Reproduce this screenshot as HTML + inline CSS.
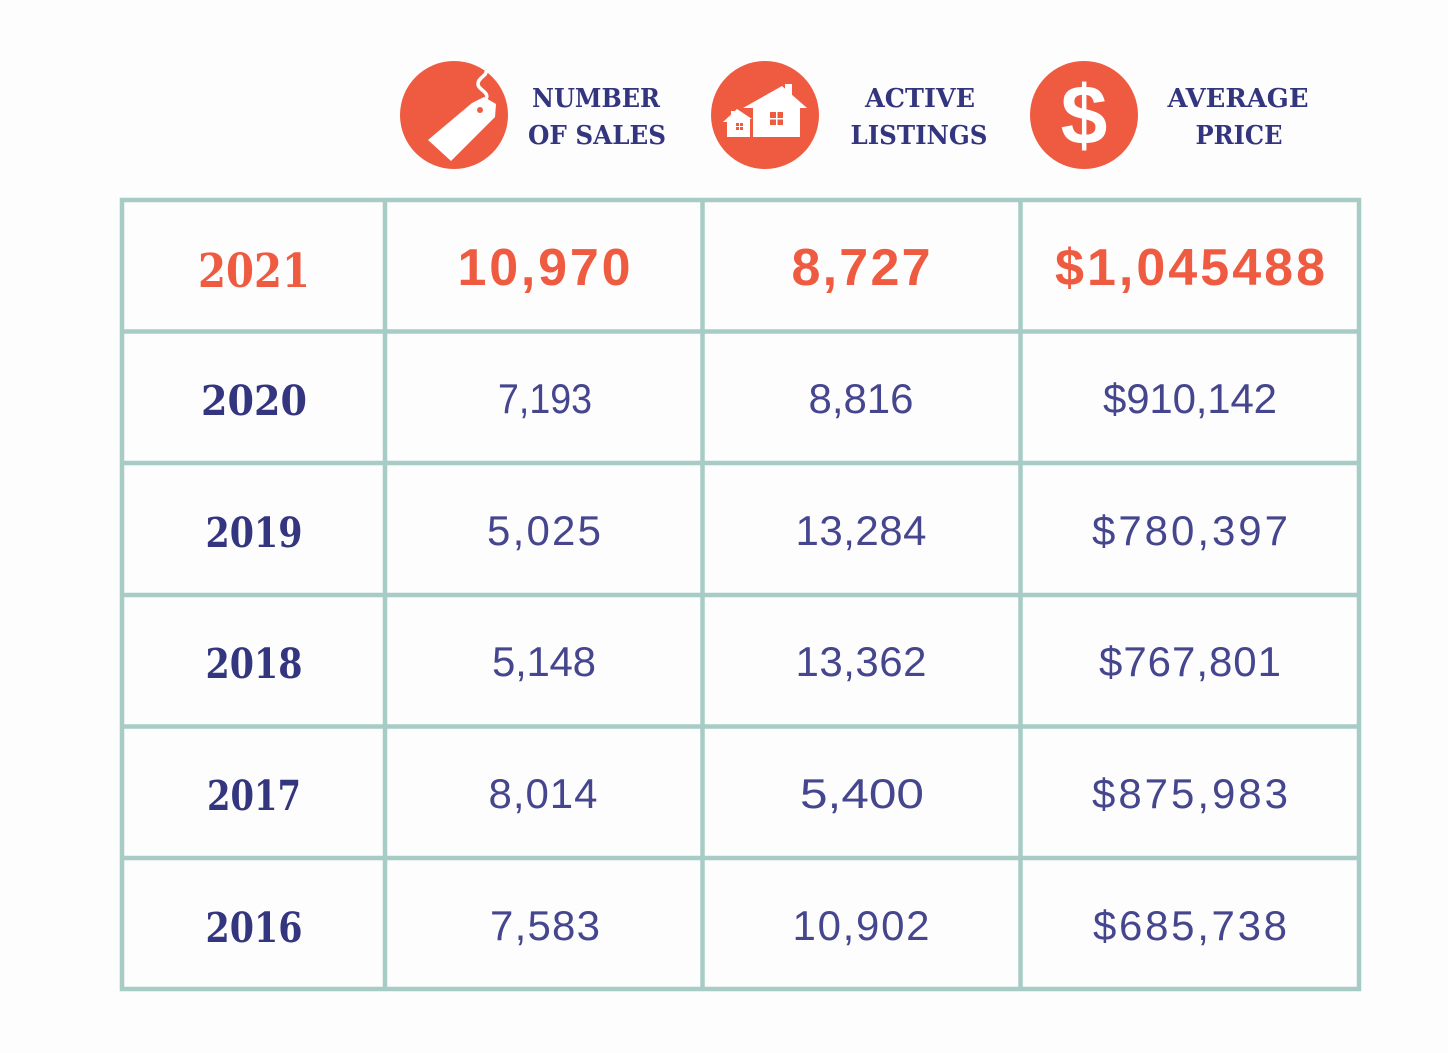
<!DOCTYPE html>
<html><head><meta charset="utf-8"><style>
html,body{margin:0;padding:0;background:#fdfdfd;}
svg{display:block;}
</style></head><body>
<svg width="1448" height="1053" viewBox="0 0 1448 1053" xmlns="http://www.w3.org/2000/svg">
<rect width="1448" height="1053" fill="#fdfdfd"/>
<!-- icons -->
<circle cx="454" cy="115" r="54" fill="#ee5b40"/>
<circle cx="765" cy="115" r="54" fill="#ee5b40"/>
<circle cx="1084" cy="115" r="54" fill="#ee5b40"/>
<!-- tag -->
<polygon points="428,140 472,103 484,97 496,104 495,117 451,161" fill="#fff"/>
<circle cx="480" cy="110" r="3" fill="#ee5b40"/>
<path d="M486,99 C490,92 478,90 478,84 C478,78 486,76 486,72" stroke="#fff" stroke-width="3.5" fill="none" stroke-linecap="round"/>
<!-- houses -->
<polygon points="743,108 782,86 807,108 800,108 800,137 753,137 753,108" fill="#fff"/>
<rect x="785" y="84" width="7" height="14" fill="#fff"/>
<polygon points="723,122 737,109 752,119 750,119 750,137 727,137 727,122" fill="#fff"/>
<rect x="731" y="111" width="4" height="7" fill="#fff"/>
<rect x="770" y="112" width="13" height="13" fill="#ee5b40"/>
<rect x="776" y="112" width="1.5" height="13" fill="#fff"/>
<rect x="770" y="118" width="13" height="1.5" fill="#fff"/>
<rect x="736" y="123" width="7" height="7" fill="#ee5b40"/>
<rect x="739" y="123" width="1" height="7" fill="#fff"/>
<rect x="736" y="126" width="7" height="1" fill="#fff"/>
<!-- dollar -->
<text x="1084" y="144" text-anchor="middle" font-family="Liberation Sans, sans-serif" font-weight="bold" font-size="84" fill="#fff">$</text>
<!-- header labels -->
<g font-family="'DejaVu Serif', 'Liberation Serif', serif" font-weight="bold" font-size="26" fill="#34357f" text-anchor="middle">
<text x="596" y="107" textLength="128" lengthAdjust="spacingAndGlyphs">NUMBER</text>
<text x="597" y="144" textLength="138" lengthAdjust="spacingAndGlyphs">OF SALES</text>
<text x="920" y="107" textLength="110" lengthAdjust="spacingAndGlyphs">ACTIVE</text>
<text x="919" y="144" textLength="137" lengthAdjust="spacingAndGlyphs">LISTINGS</text>
<text x="1238" y="107" textLength="141" lengthAdjust="spacingAndGlyphs">AVERAGE</text>
<text x="1239" y="144" textLength="87" lengthAdjust="spacingAndGlyphs">PRICE</text>
</g>
<!-- grid -->
<g stroke="#a7cbc5" stroke-width="4.5" fill="none">
<rect x="122" y="200" width="1237" height="789"/>
<line x1="385" y1="200" x2="385" y2="989"/>
<line x1="702.5" y1="200" x2="702.5" y2="989"/>
<line x1="1020.5" y1="200" x2="1020.5" y2="989"/>
<line x1="122" y1="331.5" x2="1359" y2="331.5"/>
<line x1="122" y1="463" x2="1359" y2="463"/>
<line x1="122" y1="595" x2="1359" y2="595"/>
<line x1="122" y1="726.5" x2="1359" y2="726.5"/>
<line x1="122" y1="858" x2="1359" y2="858"/>
</g>
<!-- years -->
<g font-family="'DejaVu Serif', 'Liberation Serif', serif" font-weight="bold" text-anchor="middle">
<text x="254" y="287" font-size="47" fill="#ee5b40" textLength="112" lengthAdjust="spacingAndGlyphs">2021</text>
<g font-size="41" fill="#34357f">
<text x="254" y="415" textLength="106" lengthAdjust="spacingAndGlyphs">2020</text>
<text x="254" y="547" textLength="97" lengthAdjust="spacingAndGlyphs">2019</text>
<text x="254" y="678" textLength="97" lengthAdjust="spacingAndGlyphs">2018</text>
<text x="254" y="810" textLength="94" lengthAdjust="spacingAndGlyphs">2017</text>
<text x="254" y="942" textLength="97" lengthAdjust="spacingAndGlyphs">2016</text>
</g>
</g>
<!-- top row values -->
<g font-family="Liberation Sans, sans-serif" font-weight="bold" font-size="52" fill="#ee5b40" text-anchor="middle">
<text x="544" y="285" textLength="173" lengthAdjust="spacing">10,970</text>
<text x="861" y="285" textLength="139" lengthAdjust="spacing">8,727</text>
<text x="1190" y="285" textLength="270" lengthAdjust="spacing">$1,045488</text>
</g>
<!-- values -->
<g font-family="Liberation Sans, sans-serif" font-size="42" fill="#45468e" text-anchor="middle">
<text x="545" y="413" textLength="94" lengthAdjust="spacingAndGlyphs">7,193</text>
<text x="544" y="545" textLength="114" lengthAdjust="spacing">5,025</text>
<text x="544" y="676" textLength="104" lengthAdjust="spacing">5,148</text>
<text x="543" y="808" textLength="109" lengthAdjust="spacing">8,014</text>
<text x="545" y="940" textLength="110" lengthAdjust="spacing">7,583</text>
<text x="861" y="413" textLength="105" lengthAdjust="spacing">8,816</text>
<text x="861" y="545" textLength="131" lengthAdjust="spacing">13,284</text>
<text x="861" y="676" textLength="131" lengthAdjust="spacing">13,362</text>
<text x="862" y="808" textLength="124" lengthAdjust="spacingAndGlyphs">5,400</text>
<text x="861" y="940" textLength="137" lengthAdjust="spacing">10,902</text>
<text x="1190" y="413" textLength="174" lengthAdjust="spacing">$910,142</text>
<text x="1190" y="545" textLength="196" lengthAdjust="spacing">$780,397</text>
<text x="1190" y="676" textLength="182" lengthAdjust="spacing">$767,801</text>
<text x="1190" y="808" textLength="196" lengthAdjust="spacing">$875,983</text>
<text x="1190" y="940" textLength="194" lengthAdjust="spacing">$685,738</text>
</g>
</svg>
</body></html>
